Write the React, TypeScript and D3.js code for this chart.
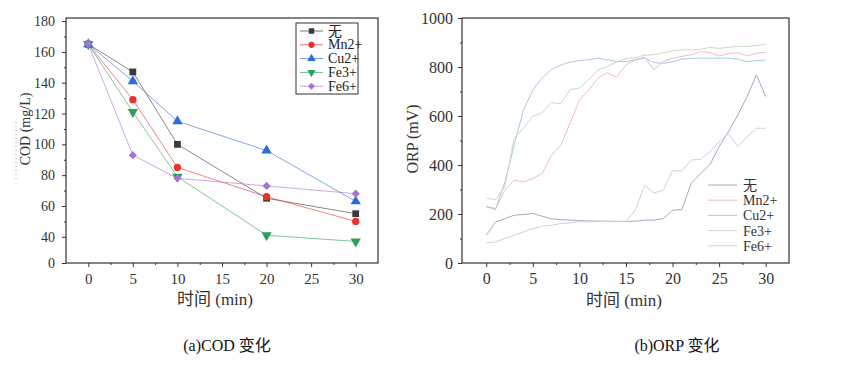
import React, { useEffect, useRef } from 'react';
import * as d3 from 'd3';

// series names (same order in both panels)
const SERIES = ['无', 'Mn2+', 'Cu2+', 'Fe3+', 'Fe6+'];

// (a) COD, mg/L
const COD_TIME = [0, 5, 10, 20, 30];
const COD_NONE = [165, 147, 100, 65, 55];
const COD_MN = [165, 129, 85, 66, 50];
const COD_CU = [165, 141, 115, 96, 63];
const COD_FE3 = [165, 121, 79, 41, 37];
const COD_FE6 = [165, 93, 78, 73, 68];
const COD_Y_TICKS = [0, 40, 60, 80, 100, 120, 140, 160, 180];
const TIME_TICKS = [0, 5, 10, 15, 20, 25, 30];

// (b) ORP, mV, one reading per minute
const ORP_TIME = [0, 1, 2, 3, 4, 5, 6, 7, 8, 9, 10, 11, 12, 13, 14, 15, 16, 17, 18, 19, 20, 21, 22, 23, 24, 25, 26, 27, 28, 29, 30];
const ORP_NONE = [113, 168, 181, 195, 198, 202, 191, 181, 177, 175, 173, 172, 171, 170, 170, 170, 170, 175, 175, 181, 215, 218, 325, 365, 400, 475, 536, 604, 679, 768, 679];
const ORP_MN = [232, 222, 297, 338, 331, 345, 365, 440, 481, 570, 665, 706, 754, 777, 758, 809, 829, 840, 788, 822, 836, 843, 850, 863, 859, 845, 854, 859, 845, 856, 860];
const ORP_CU = [230, 218, 330, 480, 625, 706, 755, 790, 808, 820, 826, 830, 836, 830, 822, 822, 830, 836, 818, 815, 822, 832, 836, 836, 836, 836, 836, 832, 822, 826, 828];
const ORP_FE3 = [265, 258, 310, 510, 550, 600, 612, 655, 650, 708, 714, 748, 788, 802, 820, 835, 838, 848, 850, 858, 866, 870, 870, 872, 880, 876, 880, 884, 884, 888, 893];
const ORP_FE6 = [83, 86, 100, 113, 127, 140, 150, 154, 161, 164, 168, 168, 169, 170, 170, 168, 215, 317, 286, 297, 376, 376, 420, 423, 454, 495, 529, 475, 515, 550, 550];
const ORP_Y_TICKS = [0, 200, 400, 600, 800, 1000];

const COD_COLORS = ['#3a3a3a', '#e8322e', '#2b6cd8', '#2ea05c', '#a672d6'];
// marker: [symbol type, rotation]
const COD_MARKERS = [
  [d3.symbolSquare, 0],
  [d3.symbolCircle, 0],
  [d3.symbolTriangle, 0],
  [d3.symbolTriangle, 180],
  [d3.symbolSquare, 45],
];
const ORP_COLORS = ['#aea6c0', '#f0bcc6', '#aec6e6', '#c6dcc4', '#d6cbe6'];

const SERIF = '"Liberation Serif", "Noto Sans CJK SC", serif';

function App() {
  const ref = useRef(null);

  useEffect(() => {
    const svg = d3.select(ref.current);
    svg.selectAll('*').remove();
    drawCod(svg);
    drawOrp(svg);
  }, []);

  return (
    <svg ref={ref} width={844} height={366}
      style={{ position: 'absolute', left: 0, top: 0, background: '#fff' }} />
  );
}

function frame(g, x0, x1, y0, y1) {
  g.append('rect')
    .attr('x', x0).attr('y', y0)
    .attr('width', x1 - x0).attr('height', y1 - y0)
    .attr('fill', 'none').attr('stroke', '#333').attr('stroke-width', 1.2);
}

function styleAxis(sel, size) {
  sel.attr('font-family', SERIF).attr('font-size', size);
  sel.select('.domain').remove();
  sel.selectAll('line').attr('stroke', '#333');
  sel.selectAll('text')
    .attr('fill', '#333')
    .style('font-family', SERIF)
    .style('font-size', size + 'px');
}

function marker(k, size) {
  return d3.symbol().type(COD_MARKERS[k][0]).size(size)();
}

function drawCod(svg) {
  const x0 = 66, x1 = 378, y0 = 18, y1 = 263;
  const x = d3.scaleLinear().domain([-2.5, 32.5]).range([x0, x1]);
  // the original axis is broken below 40: everything under ~23 sits on the baseline
  const y = d3.scaleLinear().domain([0, 23, 182]).range([y1, y1, y0]);

  const g = svg.append('g');

  // minor ticks
  g.append('g').attr('transform', `translate(0,${y1})`)
    .call(d3.axisBottom(x).tickValues([2.5, 7.5, 12.5, 17.5, 22.5, 27.5]).tickSize(2).tickFormat(() => ''))
    .call(s => styleAxis(s, 13));
  g.append('g').attr('transform', `translate(0,${y1})`)
    .call(d3.axisBottom(x).tickValues(TIME_TICKS).tickSize(4).tickPadding(6).tickFormat(d3.format('d')))
    .call(s => styleAxis(s, 15));
  g.append('g').attr('transform', `translate(${x0},0)`)
    .call(d3.axisLeft(y).tickValues([50, 70, 90, 110, 130, 150, 170]).tickSize(2).tickFormat(() => ''))
    .call(s => styleAxis(s, 13));
  g.append('g').attr('transform', `translate(${x0},0)`)
    .call(d3.axisLeft(y).tickValues(COD_Y_TICKS).tickSize(4).tickPadding(7).tickFormat(d3.format('d')))
    .call(s => styleAxis(s, 14));

  frame(g, x0, x1, y0, y1);

  const data = [COD_NONE, COD_MN, COD_CU, COD_FE3, COD_FE6];
  const line = d3.line().x((d, i) => x(COD_TIME[i])).y(d => y(d));
  data.forEach((vals, k) => {
    g.append('path').datum(vals)
      .attr('d', line)
      .attr('fill', 'none')
      .attr('stroke', COD_COLORS[k])
      .attr('stroke-opacity', 0.6)
      .attr('stroke-width', 1);
  });
  data.forEach((vals, k) => {
    g.selectAll(null).data(vals).enter().append('path')
      .attr('d', marker(k, k === 1 ? 42 : k === 4 ? 34 : 46))
      .attr('transform', (d, i) => `translate(${x(COD_TIME[i])},${y(d)}) rotate(${COD_MARKERS[k][1]})`)
      .attr('fill', COD_COLORS[k]);
  });

  // legend
  const lg = g.append('g');
  lg.append('rect').attr('x', 296).attr('y', 23).attr('width', 62).attr('height', 71)
    .attr('fill', '#fff').attr('stroke', '#333').attr('stroke-width', 1);
  SERIES.forEach((name, k) => {
    const ly = 31 + k * 13.8;
    lg.append('line').attr('x1', 300).attr('x2', 323).attr('y1', ly).attr('y2', ly)
      .attr('stroke', COD_COLORS[k]).attr('stroke-opacity', 0.7);
    lg.append('path').attr('d', marker(k, k === 4 ? 24 : 30))
      .attr('transform', `translate(311.5,${ly}) rotate(${COD_MARKERS[k][1]})`)
      .attr('fill', COD_COLORS[k]);
    lg.append('text').attr('x', 328).attr('y', ly + 4.5)
      .style('font-family', SERIF).style('font-size', '14px').attr('fill', '#222')
      .text(name);
  });

  // stray dotted mark left of the y title, as in the source figure
  g.append('line').attr('x1', 16).attr('x2', 16).attr('y1', 122).attr('y2', 182)
    .attr('stroke', '#999').attr('stroke-dasharray', '1,3');

  g.append('text')
    .attr('transform', 'translate(30,129) rotate(-90)')
    .attr('text-anchor', 'middle')
    .style('font-family', SERIF).style('font-size', '14px').attr('fill', '#333')
    .text('COD (mg/L)');
  g.append('text').attr('x', 215).attr('y', 305).attr('text-anchor', 'middle')
    .style('font-family', SERIF).style('font-size', '17px').attr('fill', '#333')
    .text('时间 (min)');
  g.append('text').attr('x', 227).attr('y', 351).attr('text-anchor', 'middle')
    .style('font-family', SERIF).style('font-size', '16px').attr('fill', '#111')
    .text('(a)COD 变化');
}

function drawOrp(svg) {
  const x0 = 462, x1 = 789, y0 = 18, y1 = 263;
  const x = d3.scaleLinear().domain([-2.6, 32.5]).range([x0, x1]);
  const y = d3.scaleLinear().domain([0, 1000]).range([y1, y0]);

  const g = svg.append('g');

  g.append('g').attr('transform', `translate(0,${y1})`)
    .call(d3.axisBottom(x).tickValues([2.5, 7.5, 12.5, 17.5, 22.5, 27.5]).tickSize(2).tickFormat(() => ''))
    .call(s => styleAxis(s, 13));
  g.append('g').attr('transform', `translate(0,${y1})`)
    .call(d3.axisBottom(x).tickValues(TIME_TICKS).tickSize(4).tickPadding(6).tickFormat(d3.format('d')))
    .call(s => styleAxis(s, 16));
  g.append('g').attr('transform', `translate(${x0},0)`)
    .call(d3.axisLeft(y).tickValues([100, 300, 500, 700, 900]).tickSize(2).tickFormat(() => ''))
    .call(s => styleAxis(s, 13));
  g.append('g').attr('transform', `translate(${x0},0)`)
    .call(d3.axisLeft(y).tickValues(ORP_Y_TICKS).tickSize(4).tickPadding(5).tickFormat(d3.format('d')))
    .call(s => styleAxis(s, 16));

  frame(g, x0, x1, y0, y1);

  const data = [ORP_NONE, ORP_MN, ORP_CU, ORP_FE3, ORP_FE6];
  const line = d3.line().x((d, i) => x(ORP_TIME[i])).y(d => y(d));
  data.forEach((vals, k) => {
    g.append('path').datum(vals)
      .attr('d', line)
      .attr('fill', 'none')
      .attr('stroke', ORP_COLORS[k])
      .attr('stroke-width', 1);
  });

  SERIES.forEach((name, k) => {
    const ly = 185 + k * 15.2;
    g.append('line').attr('x1', 708).attr('x2', 737).attr('y1', ly).attr('y2', ly)
      .attr('stroke', ORP_COLORS[k]);
    g.append('text').attr('x', 743).attr('y', ly + 5)
      .style('font-family', SERIF).style('font-size', '14px').attr('fill', '#333')
      .text(name);
  });

  g.append('text')
    .attr('transform', 'translate(418,139) rotate(-90)')
    .attr('text-anchor', 'middle')
    .style('font-family', SERIF).style('font-size', '16px').attr('fill', '#333')
    .text('ORP (mV)');
  g.append('text').attr('x', 624).attr('y', 306).attr('text-anchor', 'middle')
    .style('font-family', SERIF).style('font-size', '17px').attr('fill', '#333')
    .text('时间 (min)');
  g.append('text').attr('x', 677).attr('y', 351).attr('text-anchor', 'middle')
    .style('font-family', SERIF).style('font-size', '16px').attr('fill', '#111')
    .text('(b)ORP 变化');
}

export default App;
